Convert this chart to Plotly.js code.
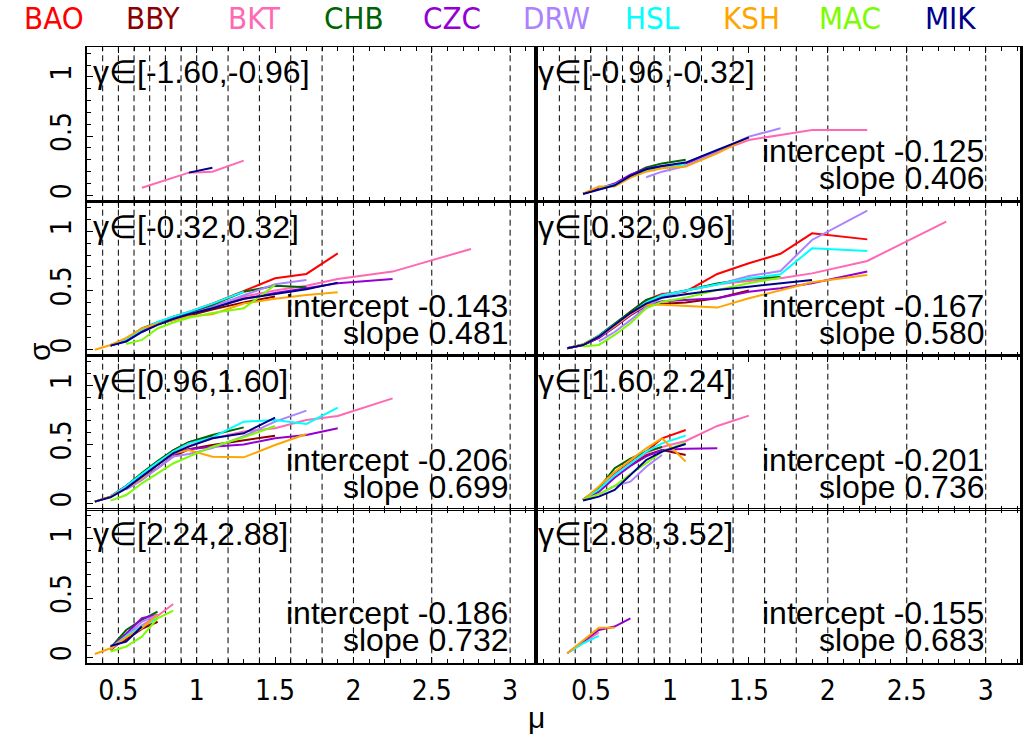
<!DOCTYPE html>
<html><head><meta charset="utf-8">
<script src="https://cdn.plot.ly/plotly-3.0.1.min.js"></script>
<style>body{margin:0;background:#fff}</style>
</head><body><div id="chart" style="width:1025px;height:740px"></div>
<script>
const _ = null;
const stations = ['BAO','BBY','BKT','CHB','CZC','DRW','HSL','KSH','MAC','MIK'];
const stationColors = ['#FF0000','#8B0000','#FF69B4','#006400','#9400D3','#AB82FF','#00FFFF','#FFA500','#7CFC00','#00008B'];
const muBins = [0.35,0.45,0.55,0.65,0.75,0.85,0.95,1.1,1.3,1.5,1.7,1.9,2.25,2.75];
const gammaLabels = ['[-1.60,-0.96]','[-0.96,-0.32]','[-0.32,0.32]','[0.32,0.96]','[0.96,1.60]','[1.60,2.24]','[2.24,2.88]','[2.88,3.52]'];
const intercepts = [null,'-0.125','-0.143','-0.167','-0.206','-0.201','-0.186','-0.155'];
const slopes = [null,'0.406','0.481','0.580','0.699','0.736','0.732','0.683'];
const dashPositions = [0.3,0.4,0.5,0.6,0.7,0.8,0.9,1.0,1.2,1.4,1.6,1.8,2.0,2.5,3.0];
const xTickStep = 0.5, xMinorStep = 0.1, yTickStep = 0.5, yMinorStep = 0.1;

const sigma_g1 = {
  BKT: [_,_,_,0.065,0.107,0.15,0.192,0.20,0.293,_,_,_,_,_],
  MIK: [_,_,_,_,_,_,0.192,0.234,_,_,_,_,_,_]
};
const sigma_g2 = {
  CHB: [_,0.015,0.055,0.09,0.17,0.235,0.27,0.30,_,_,_,_,_,_],
  CZC: [_,0.015,0.06,0.10,0.175,0.225,0.245,0.27,0.37,_,_,_,_,_],
  DRW: [_,_,_,_,_,0.153,0.20,0.248,0.37,0.496,0.566,_,_,_],
  HSL: [_,_,0.06,0.09,0.155,0.205,0.23,0.265,_,_,_,_,_,_],
  KSH: [_,0.015,0.074,0.074,0.15,0.20,0.229,0.243,0.355,0.49,_,_,_,_],
  BKT: [_,_,_,_,_,_,_,0.27,0.37,0.468,0.51,0.552,0.552,_],
  MIK: [_,0.012,0.05,0.085,0.165,0.22,0.248,0.277,0.383,0.49,_,_,_,_]
};
const sigma_g3 = {
  BAO: [_,0.035,0.085,0.17,0.23,0.28,0.32,0.39,0.496,0.603,0.64,0.814,_,_],
  BBY: [_,0.035,0.08,0.16,0.215,0.25,0.29,0.34,0.40,0.45,_,_,_,_],
  BKT: [_,0.04,0.09,0.17,0.23,0.27,0.31,0.37,0.45,0.50,0.541,0.598,0.66,0.851],
  CHB: [_,0.035,0.09,0.18,0.23,0.27,0.31,0.38,0.49,0.541,0.527,_,_,_],
  CZC: [_,0.035,0.08,0.165,0.22,0.26,0.30,0.36,0.43,0.48,0.52,0.561,0.598,_],
  DRW: [_,_,0.07,0.15,0.21,0.26,0.30,0.36,0.46,0.553,0.589,_,_,_],
  HSL: [_,0.04,0.09,0.17,0.235,0.28,0.32,0.39,0.49,_,_,_,_,_],
  KSH: [0.0,0.04,0.10,0.18,0.22,0.25,0.28,0.30,0.39,0.43,0.463,0.485,_,_],
  MAC: [_,_,0.049,0.083,0.18,0.23,0.27,0.31,0.35,0.547,_,_,_,_],
  MIK: [_,0.035,0.07,0.15,0.21,0.26,0.30,0.35,0.43,0.47,0.51,0.567,_,_]
};
const sigma_g4 = {
  BAO: [0.013,0.045,0.11,0.21,0.32,0.42,0.47,0.49,0.64,0.73,0.81,0.983,0.932,_],
  BBY: [0.013,0.04,0.10,0.20,0.30,0.38,0.39,0.40,0.435,0.50,_,_,_,_],
  BKT: [_,0.041,0.11,0.20,0.30,0.40,0.46,0.50,0.553,0.58,0.603,0.645,0.75,1.082],
  CHB: [0.013,0.045,0.12,0.22,0.32,0.42,0.46,0.50,0.56,0.60,0.615,_,_,_],
  CZC: [0.013,0.04,0.10,0.19,0.29,0.37,0.41,0.42,0.435,0.49,0.52,0.561,0.66,_],
  DRW: [_,_,0.07,0.15,0.25,0.36,0.44,0.50,0.55,0.623,0.665,0.927,1.175,_],
  HSL: [0.013,0.045,0.115,0.21,0.31,0.40,0.46,0.50,0.547,0.603,0.637,0.856,0.834,_],
  KSH: [0.013,0.045,0.11,0.20,0.30,0.38,0.38,0.37,0.356,0.435,0.505,0.57,0.632,_],
  MAC: [_,0.027,0.041,0.125,0.224,0.35,0.406,0.44,0.505,0.561,0.609,_,_,_],
  MIK: [0.013,0.04,0.11,0.21,0.31,0.39,0.44,0.468,0.505,0.533,0.561,0.589,_,_]
};
const sigma_g5 = {
  BAO: [0.018,0.06,0.15,0.25,0.35,0.45,0.52,0.57,_,_,_,_,_,_],
  BBY: [_,0.06,0.14,0.22,0.30,0.40,0.46,0.496,0.538,0.575,_,_,_,_],
  BKT: [_,0.06,0.14,0.24,0.34,0.43,0.49,0.55,0.61,0.637,0.707,0.741,0.89,_],
  CHB: [0.018,0.06,0.15,0.26,0.36,0.45,0.52,0.58,0.645,_,_,_,_,_],
  CZC: [_,0.06,0.15,0.24,0.33,0.42,0.46,0.482,0.50,0.553,0.581,0.637,_,_],
  DRW: [_,_,0.12,0.20,0.30,0.40,0.42,0.47,0.57,0.693,0.786,_,_,_],
  HSL: [_,0.06,0.15,0.25,0.35,0.44,0.51,0.56,0.693,0.707,0.674,0.811,_,_],
  KSH: [0.018,0.06,0.13,0.215,0.33,0.426,0.454,0.398,0.392,0.496,0.589,_,_,_],
  MAC: [_,0.027,0.074,0.173,0.257,0.34,0.398,0.482,0.561,0.657,_,_,_,_],
  MIK: [0.018,0.055,0.13,0.23,0.33,0.426,0.482,0.553,0.595,0.727,_,_,_,_]
};
const sigma_g6 = {
  BAO: [_,0.032,0.12,0.25,0.35,0.44,0.553,0.623,_,_,_,_,_,_],
  BBY: [_,0.032,0.11,0.23,0.33,0.41,0.454,0.412,_,_,_,_,_,_],
  BKT: [_,0.035,0.12,0.24,0.34,0.43,0.48,0.53,0.657,0.744,_,_,_,_],
  CHB: [_,0.035,0.13,0.30,0.38,0.44,0.48,_,_,_,_,_,_,_],
  CZC: [_,0.032,0.10,0.22,0.32,0.40,0.454,0.465,0.468,_,_,_,_,_],
  DRW: [_,_,0.08,0.15,0.187,0.313,0.412,_,_,_,_,_,_,_],
  HSL: [_,0.032,0.12,0.24,0.34,0.44,0.51,0.575,_,_,_,_,_,_],
  KSH: [_,0.032,0.145,0.271,0.37,0.468,0.553,0.356,_,_,_,_,_,_],
  MAC: [_,0.035,0.08,0.15,0.25,0.342,0.44,0.516,_,_,_,_,_,_],
  MIK: [_,0.027,0.06,0.117,0.243,0.37,0.44,0.505,_,_,_,_,_,_]
};
const sigma_g7 = {
  BAO: [_,0.06,0.17,0.25,0.30,_,_,_,_,_,_,_,_,_],
  BBY: [_,0.08,0.15,0.24,0.30,_,_,_,_,_,_,_,_,_],
  BKT: [_,0.07,0.17,0.27,0.35,0.451,_,_,_,_,_,_,_,_],
  CHB: [_,0.08,0.231,0.316,0.386,_,_,_,_,_,_,_,_,_],
  CZC: [_,0.08,0.20,0.33,0.36,_,_,_,_,_,_,_,_,_],
  DRW: [_,0.08,0.18,0.30,0.36,_,_,_,_,_,_,_,_,_],
  HSL: [_,0.07,0.18,0.26,0.33,_,_,_,_,_,_,_,_,_],
  KSH: [0.029,0.077,0.17,0.246,0.358,_,_,_,_,_,_,_,_,_],
  MAC: [_,0.049,0.091,0.175,0.33,0.394,_,_,_,_,_,_,_,_],
  MIK: [_,0.096,0.133,0.26,_,_,_,_,_,_,_,_,_,_]
};
const sigma_g8 = {
  BKT: [0.035,0.12,0.21,_,_,_,_,_,_,_,_,_,_,_],
  CZC: [0.035,0.13,0.231,0.26,0.33,_,_,_,_,_,_,_,_,_],
  HSL: [0.035,0.119,0.181,_,_,_,_,_,_,_,_,_,_,_],
  KSH: [0.035,0.141,0.251,0.251,_,_,_,_,_,_,_,_,_,_]
};
const panels = [sigma_g1,sigma_g2,sigma_g3,sigma_g4,sigma_g5,sigma_g6,sigma_g7,sigma_g8];

// ---------- layout geometry (pixels) ----------
const W = 1025, H = 740;
const colLeft = [86.7, 536], colRight = [536, 1020];
const colRanges = [[0.298, 3.165], [0.152, 3.217]];
const rowTops = [47.3, 201.7, 355.7, 509.3], rowH = 154;
const yRange = [-0.05, 1.25];
const narrow = '"Liberation Sans Narrow","Arial Narrow","DejaVu Sans Condensed","Liberation Sans",Arial,sans-serif';
const sans = '"Liberation Sans",Arial,Helvetica,sans-serif';

const traces = [];
const layout = {
  width: W, height: H, margin: {l:0, r:0, t:0, b:0},
  paper_bgcolor: 'white', plot_bgcolor: 'rgba(0,0,0,0)', showlegend: false,
  annotations: [], shapes: []
};

panels.forEach((p, i) => {
  const row = Math.floor(i/2), col = i % 2;
  const sfx = i === 0 ? '' : String(i+1);
  stations.forEach((s, k) => {
    if (!p[s]) return;
    traces.push({type:'scatter', mode:'lines', x: muBins, y: p[s],
      xaxis: 'x'+sfx, yaxis: 'y'+sfx, connectgaps: false, hoverinfo: 'skip',
      line: {color: stationColors[k], width: 2}});
  });
  const top = rowTops[row], bot = top + rowH;
  layout['xaxis'+sfx] = {
    domain: [colLeft[col]/W, colRight[col]/W], anchor: 'y'+sfx,
    range: colRanges[col], tickmode: 'linear', tick0: 0, dtick: xTickStep,
    showticklabels: row === 3, ticks: 'inside', ticklen: 6, tickwidth: 1, tickcolor: 'black',
    minor: {dtick: xMinorStep, tick0: 0, ticks: 'inside', ticklen: 4, tickcolor: 'black', showgrid: false},
    showline: true, linecolor: 'black', linewidth: 1.5, mirror: 'ticks',
    showgrid: false, zeroline: false, ticklabelstandoff: 2,
    tickfont: {family: narrow, size: 28, color: 'black'}
  };
  layout['yaxis'+sfx] = {
    domain: [1 - bot/H, 1 - top/H], anchor: 'x'+sfx,
    range: yRange, tickmode: 'linear', tick0: 0, dtick: yTickStep,
    showticklabels: col === 0, tickangle: -90,
    ticks: col === 0 ? 'inside' : '', ticklen: 6, tickcolor: 'black',
    minor: col === 0 ? {dtick: yMinorStep, tick0: 0, ticks: 'inside', ticklen: 4, tickcolor: 'black', showgrid: false} : {ticks: ''},
    showline: true, linecolor: 'black', linewidth: col === 0 ? 1.5 : 2.5, mirror: true,
    showgrid: false, zeroline: false, ticklabelstandoff: 3,
    tickfont: {family: narrow, size: 28, color: 'black'}
  };
  dashPositions.forEach(pos => {
    if (pos <= colRanges[col][0] + 0.005 || pos >= colRanges[col][1]) return;
    layout.shapes.push({type: 'line', layer: 'below', xref: 'x'+sfx, yref: 'y'+sfx+' domain',
      x0: pos, x1: pos, y0: 0, y1: 1, line: {color: 'black', width: 1, dash: '6px,4px'}});
  });
  // gamma label
  layout.annotations.push({xref: 'paper', yref: 'paper',
    x: (col === 0 ? 91 : 536)/W, y: 1 - (top + 25)/H, xanchor: 'left', yanchor: 'middle',
    text: 'γ∈' + gammaLabels[i], showarrow: false,
    font: {family: sans, size: 32, color: 'black'}});
  if (intercepts[i] !== null) {
    layout.annotations.push({xref: 'x'+sfx, yref: 'paper', x: 3.0, y: 1 - (top + 104)/H,
      xanchor: 'right', yanchor: 'middle', text: 'intercept ' + intercepts[i], showarrow: false,
      font: {family: sans, size: 32, color: 'black'}});
    layout.annotations.push({xref: 'x'+sfx, yref: 'paper', x: 3.0, y: 1 - (top + 131)/H,
      xanchor: 'right', yanchor: 'middle', text: 'slope ' + slopes[i], showarrow: false,
      font: {family: sans, size: 32, color: 'black'}});
  }
});

// station colour key along the top
const keyCenters = [54, 153, 254, 354, 452, 556, 652, 751, 850, 950];
stations.forEach((s, k) => {
  layout.annotations.push({xref: 'paper', yref: 'paper', x: keyCenters[k]/W, y: 1 - 18/H,
    xanchor: 'center', yanchor: 'middle', text: s, showarrow: false,
    font: {family: narrow, size: 31, color: stationColors[k]}});
});
// axis titles
layout.annotations.push({xref: 'paper', yref: 'paper', x: 39/W, y: 1 - 352/H,
  text: 'σ', textangle: -90, showarrow: false, xanchor: 'center', yanchor: 'middle',
  font: {family: sans, size: 30, color: 'black'}});
layout.annotations.push({xref: 'paper', yref: 'paper', x: 536/W, y: 1 - 717/H,
  text: 'μ', showarrow: false, xanchor: 'center', yanchor: 'middle',
  font: {family: sans, size: 30, color: 'black'}});

Plotly.newPlot('chart', traces, layout, {staticPlot: true, displayModeBar: false});
</script>
</body></html>
